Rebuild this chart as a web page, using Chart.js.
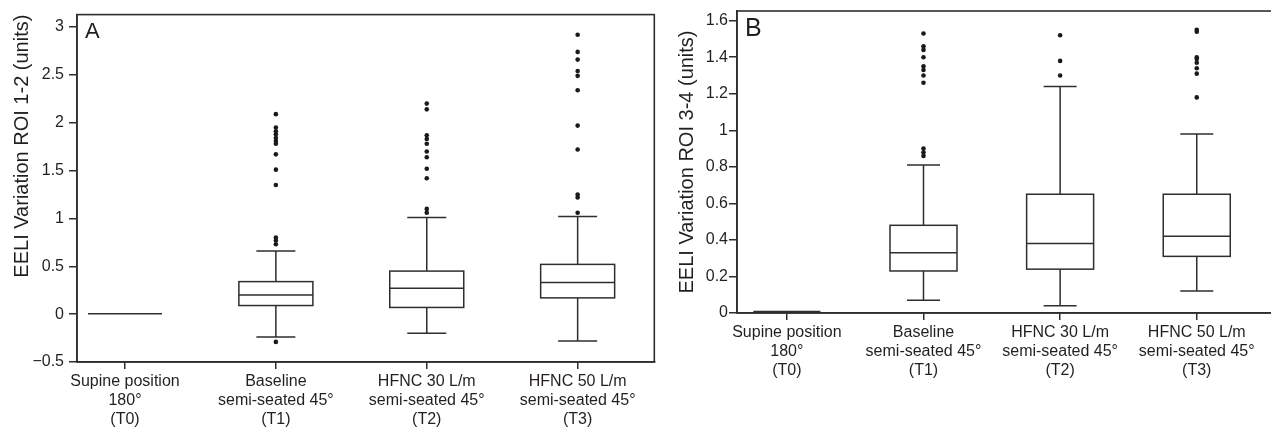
<!DOCTYPE html>
<html>
<head>
<meta charset="utf-8">
<script src="https://cdn.jsdelivr.net/npm/chart.js@4.4.1/dist/chart.umd.min.js"></script>
<style>
  html, body { margin: 0; padding: 0; background: #ffffff; overflow: hidden; }
  #wrap { position: relative; width: 1271px; height: 428px; overflow: hidden; }
  canvas { position: absolute; top: 0; }
  #js-panel-a { left: 0; }
  #js-panel-b { left: 665px; }
</style>
</head>
<body>
<div id="wrap">
  <canvas id="js-panel-a" width="665" height="428"></canvas>
  <canvas id="js-panel-b" width="620" height="428"></canvas>
</div>
<script>
"use strict";

// カテゴリ（x軸ラベル）
const CATEGORIES = [
  ["Supine position", "180°", "(T0)"],
  ["Baseline", "semi-seated 45°", "(T1)"],
  ["HFNC 30 L/m", "semi-seated 45°", "(T2)"],
  ["HFNC 50 L/m", "semi-seated 45°", "(T3)"],
];

// パネルA: ROI 1-2
const A_WHISKER_LOW = [0.005, -0.24, -0.2, -0.28];
const A_Q1 = [0.005, 0.09, 0.07, 0.17];
const A_MEDIAN = [0.005, 0.2, 0.27, 0.33];
const A_Q3 = [0.005, 0.34, 0.45, 0.52];
const A_WHISKER_HIGH = [0.005, 0.66, 1.01, 1.02];
const A_OUTLIERS = [
  [],
  [-0.29, 0.73, 0.77, 0.8, 1.35, 1.51, 1.67, 1.78, 1.81, 1.84, 1.88, 1.91, 1.95, 2.09],
  [1.06, 1.1, 1.42, 1.52, 1.64, 1.7, 1.78, 1.83, 1.87, 2.14, 2.2],
  [1.06, 1.22, 1.25, 1.72, 1.97, 2.34, 2.49, 2.54, 2.66, 2.74, 2.92],
];
const A_Y_TICKS = [-0.5, 0, 0.5, 1, 1.5, 2, 2.5, 3];
const A_Y_LABELS = ["\u22120.5", "0", "0.5", "1", "1.5", "2", "2.5", "3"];

// パネルB: ROI 3-4
const B_WHISKER_LOW = [0.008, 0.07, 0.04, 0.12];
const B_Q1 = [0.008, 0.23, 0.24, 0.31];
const B_MEDIAN = [0.008, 0.33, 0.38, 0.42];
const B_Q3 = [0.008, 0.48, 0.65, 0.65];
const B_WHISKER_HIGH = [0.008, 0.81, 1.24, 0.98];
const B_OUTLIERS = [
  [],
  [0.86, 0.88, 0.9, 1.26, 1.3, 1.33, 1.35, 1.4, 1.44, 1.46, 1.53],
  [1.3, 1.38, 1.52],
  [1.18, 1.31, 1.34, 1.37, 1.39, 1.4, 1.54, 1.55],
];
const B_Y_TICKS = [0, 0.2, 0.4, 0.6, 0.8, 1, 1.2, 1.4, 1.6];
const B_Y_LABELS = ["0", "0.2", "0.4", "0.6", "0.8", "1", "1.2", "1.4", "1.6"];

const INK = "#231f20";
const LINE = "#2e2e2e";
const FONT = "'Liberation Sans', Arial, sans-serif";

// 箱ひげ図を描くプラグイン（スケール経由で座標を計算）
const boxPlotPlugin = {
  id: "boxPlot",
  beforeDatasetsDraw(chart, args, opts) {
    const { ctx, chartArea } = chart;
    const xs = chart.scales.x;
    const ys = chart.scales.y;
    ctx.save();
    ctx.strokeStyle = LINE;
    ctx.lineWidth = 1.5;
    for (let i = 0; i < opts.median.length; i++) {
      const cx = xs.getPixelForValue(i);
      const half = opts.boxWidth / 2;
      const cap = opts.capWidth / 2;
      const yLow = ys.getPixelForValue(opts.low[i]);
      const yQ1 = ys.getPixelForValue(opts.q1[i]);
      const yMed = ys.getPixelForValue(opts.median[i]);
      const yQ3 = ys.getPixelForValue(opts.q3[i]);
      const yHigh = ys.getPixelForValue(opts.high[i]);
      ctx.beginPath();
      // ひげ
      if (yHigh !== yQ3) {
        ctx.moveTo(cx, yQ3); ctx.lineTo(cx, yHigh);
        ctx.moveTo(cx - cap, yHigh); ctx.lineTo(cx + cap, yHigh);
      }
      if (yLow !== yQ1) {
        ctx.moveTo(cx, yQ1); ctx.lineTo(cx, yLow);
        ctx.moveTo(cx - cap, yLow); ctx.lineTo(cx + cap, yLow);
      }
      // 箱と中央値
      ctx.moveTo(cx - half, yMed); ctx.lineTo(cx + half, yMed);
      ctx.stroke();
      if (yQ1 !== yQ3) ctx.strokeRect(cx - half, yQ3, half * 2, yQ1 - yQ3);
    }
    // 枠
    ctx.lineWidth = 1.6;
    ctx.strokeRect(chartArea.left, chartArea.top, chartArea.right - chartArea.left, chartArea.bottom - chartArea.top);
    // パネル記号
    ctx.fillStyle = INK;
    ctx.font = opts.letterSize + "px " + FONT;
    ctx.textBaseline = "top";
    ctx.fillText(opts.letter, chartArea.left + 8, chartArea.top + 6);
    ctx.restore();
  },
};

function createPanel(canvasId, p) {
  const outlierPoints = [];
  p.outliers.forEach((list, i) => {
    list.forEach((v) => outlierPoints.push({ x: i, y: v }));
  });
  return new Chart(document.getElementById(canvasId), {
    type: "scatter",
    data: {
      datasets: [
        {
          data: outlierPoints,
          pointRadius: 2.3,
          pointBackgroundColor: "#1a1a1a",
          pointBorderWidth: 0,
        },
      ],
    },
    options: {
      responsive: false,
      animation: false,
      events: [],
      layout: { padding: { top: 11, right: p.padRight, left: 0, bottom: 0 } },
      plugins: {
        legend: { display: false },
        tooltip: { enabled: false },
        boxPlot: {
          low: p.low, q1: p.q1, median: p.median, q3: p.q3, high: p.high,
          boxWidth: p.boxWidth, capWidth: p.capWidth,
          letter: p.letter, letterSize: p.letterSize,
        },
      },
      scales: {
        x: {
          type: "linear",
          min: p.xMin,
          max: p.xMax,
          afterBuildTicks: (scale) => {
            scale.ticks = CATEGORIES.map((c, i) => ({ value: i }));
          },
          afterFit: (scale) => {
            scale.height = p.xAxisHeight;
          },
          ticks: {
            autoSkip: false,
            maxRotation: 0,
            padding: 3,
            color: INK,
            font: { family: FONT, size: 16, lineHeight: 1.2 },
            callback: (value, index) => CATEGORIES[index],
          },
          grid: { drawOnChartArea: false, tickLength: 7, color: LINE, lineWidth: 1.5 },
          border: { color: LINE, width: 1.6 },
        },
        y: {
          min: p.yMin,
          max: p.yMax,
          afterBuildTicks: (scale) => {
            scale.ticks = p.yTicks.map((v) => ({ value: v }));
          },
          afterFit: (scale) => {
            scale.width = p.yAxisWidth;
          },
          ticks: {
            padding: p.yTickPadding,
            color: INK,
            font: { family: FONT, size: 16 },
            callback: (value, index) => p.yLabels[index],
          },
          grid: { drawOnChartArea: false, tickLength: 8, color: LINE, lineWidth: 1.5 },
          border: { color: LINE, width: 1.6 },
          title: {
            display: true,
            text: p.yTitle,
            align: p.titleAlign,
            color: INK,
            font: { family: FONT, size: 20, lineHeight: 1.2 },
            padding: { top: 10, bottom: 0 },
          },
        },
      },
    },
    plugins: [boxPlotPlugin],
  });
}

createPanel("js-panel-a", {
  low: A_WHISKER_LOW, q1: A_Q1, median: A_MEDIAN, q3: A_Q3, high: A_WHISKER_HIGH,
  outliers: A_OUTLIERS,
  yTicks: A_Y_TICKS, yLabels: A_Y_LABELS,
  yMin: -0.5, yMax: 3.13,
  xMin: -0.318, xMax: 3.508,
  yTitle: "EELI Variation ROI 1-2 (units)",
  titleAlign: "end",
  yAxisWidth: 77, xAxisHeight: 66, padRight: 10.7,
  yTickPadding: 5,
  boxWidth: 74, capWidth: 39,
  letter: "A", letterSize: 22,
});

createPanel("js-panel-b", {
  low: B_WHISKER_LOW, q1: B_Q1, median: B_MEDIAN, q3: B_Q3, high: B_WHISKER_HIGH,
  outliers: B_OUTLIERS,
  yTicks: B_Y_TICKS, yLabels: B_Y_LABELS,
  yMin: 0, yMax: 1.653,
  xMin: -0.365, xMax: 3.58,
  yTitle: "EELI Variation ROI 3-4 (units)",
  titleAlign: "center",
  yAxisWidth: 72, xAxisHeight: 115, padRight: 9,
  yTickPadding: 1,
  boxWidth: 67, capWidth: 33,
  letter: "B", letterSize: 25,
});
</script>
</body>
</html>
